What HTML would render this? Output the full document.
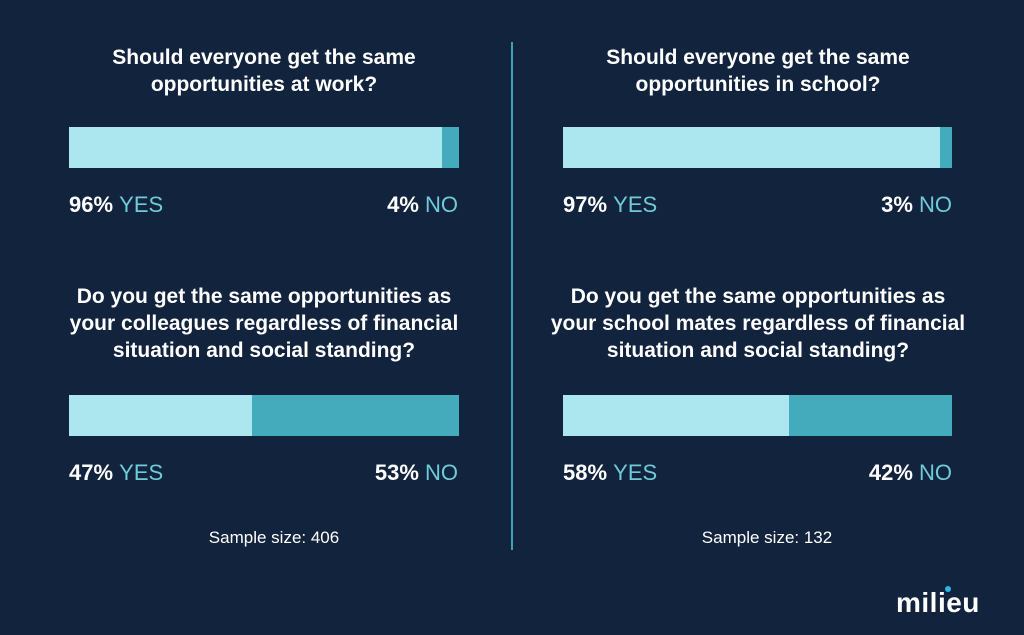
<!DOCTYPE html>
<html><head><meta charset="utf-8"><style>
body{margin:0;width:1024px;height:635px;background:#12233d;overflow:hidden;font-family:"Liberation Sans",sans-serif;position:relative}
.t{position:absolute;color:#fff;font-weight:bold;font-size:21px;line-height:27px;text-align:center;width:460px}
.bar{position:absolute;height:41px;display:flex}
.bar .y{background:#ace6ee;height:100%}
.bar .n{background:#43abbb;height:100%;flex:1}
.lab{position:absolute;font-size:22px;font-weight:bold;color:#fff;line-height:24px}
.lab span{color:#6fcbd8;font-weight:normal}
.s{position:absolute;color:#fff;font-size:17px;width:300px;text-align:center}
.div{position:absolute;left:511px;top:42px;width:2px;height:508px;background:#3fa3b5}
</style></head><body>
<div class="div"></div>
<div class="t" style="left:34px;top:44px">Should everyone get the same<br>opportunities at work?</div>
<div class="t" style="left:528px;top:44px">Should everyone get the same<br>opportunities in school?</div>
<div class="bar" style="left:69px;top:127px;width:390px"><div class="y" style="width:373px"></div><div class="n"></div></div>
<div class="bar" style="left:563px;top:127px;width:389px"><div class="y" style="width:377px"></div><div class="n"></div></div>
<div class="lab" style="left:69px;top:193px">96% <span>YES</span></div>
<div class="lab" style="right:566px;top:193px">4% <span>NO</span></div>
<div class="lab" style="left:563px;top:193px">97% <span>YES</span></div>
<div class="lab" style="right:72px;top:193px">3% <span>NO</span></div>
<div class="t" style="left:34px;top:283px">Do you get the same opportunities as<br>your colleagues regardless of financial<br>situation and social standing?</div>
<div class="t" style="left:528px;top:283px">Do you get the same opportunities as<br>your school mates regardless of financial<br>situation and social standing?</div>
<div class="bar" style="left:69px;top:395px;width:390px"><div class="y" style="width:183px"></div><div class="n"></div></div>
<div class="bar" style="left:563px;top:395px;width:389px"><div class="y" style="width:226px"></div><div class="n"></div></div>
<div class="lab" style="left:69px;top:461px">47% <span>YES</span></div>
<div class="lab" style="right:566px;top:461px">53% <span>NO</span></div>
<div class="lab" style="left:563px;top:461px">58% <span>YES</span></div>
<div class="lab" style="right:72px;top:461px">42% <span>NO</span></div>
<div class="s" style="left:124px;top:528px">Sample size: 406</div>
<div class="s" style="left:617px;top:528px">Sample size: 132</div>
<div style="position:absolute;left:896px;top:587px;color:#fff;font-size:28px;font-weight:bold;letter-spacing:0.5px">milieu</div>
<div style="position:absolute;left:945px;top:586px;width:6px;height:6px;border-radius:50%;background:#2bb5e8"></div>
</body></html>
